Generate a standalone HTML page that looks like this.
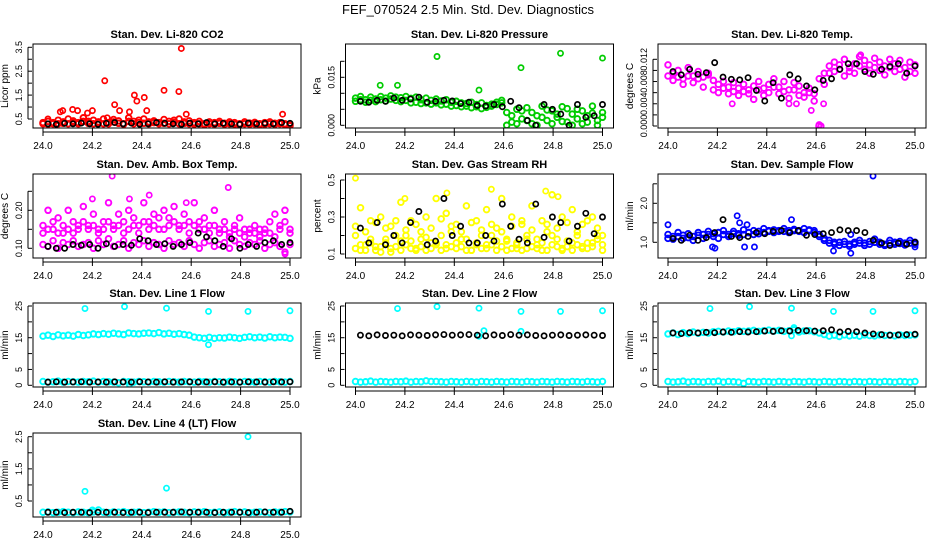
<!DOCTYPE html>
<html><head><meta charset="utf-8"><style>
body{margin:0;background:#fff;}
svg{display:block;font-family:"Liberation Sans",sans-serif;}
</style></head><body>
<svg id="c" width="936" height="540" viewBox="0 0 936 540">
<text x="468" y="14" text-anchor="middle" font-size="13">FEF_070524  2.5 Min. Std. Dev. Diagnostics</text>
</svg>
<script>
const xTicks=[24.0,24.2,24.4,24.6,24.8,25.0];
const xTickLabels=["24.0","24.2","24.4","24.6","24.8","25.0"];
// Panel 1 CO2
const p1Red=[0.35,0.4,0.3,0.45,0.38,0.5,0.42,0.35,0.55,0.4,0.45,0.38,0.5,0.35,0.48,0.42,0.3,0.55,0.4,0.45,0.5,0.38,0.42,0.35,0.48,0.4,0.45,0.5,0.38,0.42,0.35,0.4,0.3,0.38,0.35,0.4,0.32,0.38,0.35,0.3,0.38,0.33,0.36,0.3,0.35,0.38,0.32,0.35,0.3,0.28];
const p1RedB=[0.3,0.28,0.35,0.3,0.32,0.3,0.36,0.3,0.4,0.32,0.3,0.35,0.3,0.3,0.38,0.32,0.28,0.4,0.3,0.35,0.32,0.3,0.35,0.3,0.32,0.3,0.36,0.3,0.32,0.3,0.28,0.3,0.26,0.3,0.28,0.32,0.28,0.3,0.28,0.26,0.3,0.28,0.3,0.26,0.28,0.3,0.28,0.3,0.26,0.22];
const p1OutX=[24.02,24.07,24.08,24.12,24.14,24.18,24.2,24.25,24.26,24.29,24.31,24.35,24.37,24.38,24.41,24.42,24.49,24.55,24.56,24.58,24.97];
const p1OutY=[0.5,0.8,0.85,0.9,0.85,0.75,0.85,2.1,0.55,1.1,0.85,0.8,1.5,1.25,1.4,0.85,1.7,1.65,3.45,0.7,0.7];
const p1Black=[0.3,0.28,0.32,0.3,0.33,0.3,0.28,0.32,0.35,0.3,0.33,0.28,0.3,0.35,0.32,0.3,0.28,0.33,0.3,0.35,0.3,0.32,0.3,0.28,0.33,0.3,0.32,0.3,0.35,0.32];
// Panel 2 Pressure
const p2Green=[0.0085,0.009,0.008,0.0088,0.0082,0.009,0.0085,0.0092,0.0088,0.0086,0.009,0.0084,0.0088,0.008,0.0085,0.0078,0.0082,0.0076,0.008,0.0072,0.0075,0.007,0.0068,0.0072,0.0065,0.007,0.0062,0.0066,0.0072,0.0078,0.004,0.001,0.005,0.002,0.0055,0.0005,0.003,0.006,0.0015,0.0045,0.0025,0.0058,0.001,0.0035,0.005,0.0005,0.003,0.006,0.0015,0.004];
const p2GreenB=[0.0075,0.008,0.0072,0.0078,0.0074,0.008,0.0076,0.0082,0.0078,0.0074,0.0078,0.007,0.0072,0.0068,0.007,0.0066,0.007,0.0064,0.0066,0.006,0.0062,0.0058,0.006,0.0055,0.0058,0.0052,0.0056,0.006,0.0065,0.007,0.0,0.003,0.0005,0.0045,0.0015,0.004,0.0,0.0025,0.0048,0.0005,0.0035,0.0012,0.0052,0.0,0.002,0.0045,0.001,0.0038,0.0,0.0025];
const p2OutX=[24.1,24.17,24.33,24.5,24.67,24.83,25.0];
const p2OutY=[0.0125,0.0125,0.0215,0.011,0.018,0.0225,0.021];
const p2Black=[0.0075,0.0072,0.0078,0.0075,0.0085,0.0078,0.0082,0.0088,0.0072,0.0075,0.0078,0.0076,0.0068,0.0072,0.0062,0.006,0.0065,0.0058,0.0075,0.0055,0.0015,0.0,0.0065,0.005,0.0035,0.0,0.0065,0.0025,0.003,0.0065];
// Panel 3 Temp
const p3Mag=[0.011,0.0095,0.01,0.0085,0.0105,0.009,0.0098,0.0088,0.0095,0.0082,0.0075,0.008,0.007,0.0078,0.0068,0.0075,0.0065,0.0072,0.008,0.0068,0.0075,0.0085,0.007,0.008,0.0065,0.0078,0.0072,0.006,0.0068,0.0058,0.0085,0.0095,0.0108,0.0115,0.011,0.012,0.0105,0.0112,0.0125,0.0118,0.011,0.0122,0.0115,0.0108,0.012,0.0112,0.0118,0.0105,0.0115,0.011];
const p3MagB=[0.009,0.0082,0.0088,0.0075,0.009,0.0078,0.0085,0.007,0.0092,0.0065,0.006,0.0068,0.0058,0.0062,0.0055,0.0062,0.0058,0.0048,0.0065,0.0055,0.006,0.007,0.0058,0.0062,0.005,0.0065,0.0055,0.0052,0.006,0.0045,0.0002,0.0075,0.0095,0.0098,0.0102,0.009,0.0098,0.0095,0.0108,0.0102,0.0095,0.0105,0.01,0.0092,0.0105,0.0098,0.0102,0.0088,0.0098,0.0095];
const p3OutX=[24.26,24.49,24.52,24.58,24.61,24.62,24.63,24.78];
const p3OutY=[0.004,0.004,0.004,0.0028,0.0,0.0,0.004,0.0128];
const p3Black=[0.0098,0.0092,0.0102,0.0093,0.0096,0.0114,0.0088,0.0084,0.0083,0.0087,0.0064,0.0045,0.0078,0.005,0.0092,0.0085,0.0072,0.0065,0.0082,0.0085,0.0102,0.0112,0.0112,0.0098,0.0093,0.0102,0.0107,0.0112,0.0095,0.0108];
// Panel 4 Amb box temp
const p4Mag=[0.16,0.2,0.15,0.18,0.14,0.2,0.17,0.15,0.21,0.16,0.19,0.15,0.17,0.22,0.16,0.19,0.14,0.2,0.18,0.16,0.22,0.17,0.19,0.15,0.2,0.18,0.21,0.16,0.19,0.17,0.22,0.15,0.18,0.16,0.2,0.15,0.17,0.14,0.16,0.18,0.15,0.14,0.16,0.15,0.14,0.17,0.19,0.16,0.2,0.15];
const p4MagB=[0.11,0.105,0.12,0.1,0.115,0.11,0.12,0.105,0.11,0.115,0.1,0.12,0.11,0.125,0.105,0.11,0.12,0.1,0.115,0.11,0.12,0.105,0.115,0.11,0.1,0.12,0.11,0.115,0.105,0.12,0.11,0.1,0.115,0.12,0.105,0.11,0.115,0.1,0.12,0.11,0.105,0.115,0.11,0.12,0.1,0.11,0.115,0.105,0.09,0.11];
const p4MagC=[0.14,0.15,0.17,0.14,0.16,0.15,0.14,0.16,0.17,0.15,0.16,0.14,0.15,0.17,0.15,0.16,0.17,0.15,0.16,0.14,0.17,0.15,0.16,0.18,0.15,0.16,0.17,0.15,0.16,0.14,0.16,0.17,0.15,0.14,0.16,0.14,0.15,0.13,0.15,0.14,0.13,0.15,0.14,0.13,0.15,0.14,0.13,0.15,0.17,0.14];
const p4OutX=[24.2,24.28,24.35,24.43,24.75,24.58,24.98];
const p4OutY=[0.23,0.29,0.23,0.24,0.26,0.22,0.085];
const p4Black=[0.105,0.1,0.1,0.11,0.108,0.11,0.1,0.112,0.105,0.11,0.108,0.125,0.12,0.11,0.112,0.105,0.11,0.115,0.14,0.13,0.12,0.105,0.125,0.1,0.11,0.105,0.115,0.12,0.11,0.115];
// Panel 5 RH
const p5Yel=[0.2,0.35,0.15,0.28,0.12,0.3,0.18,0.25,0.14,0.38,0.2,0.28,0.13,0.22,0.3,0.16,0.4,0.2,0.32,0.14,0.26,0.18,0.36,0.12,0.28,0.2,0.34,0.15,0.24,0.4,0.18,0.3,0.13,0.26,0.2,0.36,0.15,0.28,0.22,0.42,0.18,0.3,0.14,0.34,0.2,0.26,0.16,0.3,0.18,0.2];
const p5YelB=[0.13,0.15,0.12,0.18,0.14,0.11,0.16,0.13,0.2,0.12,0.15,0.17,0.12,0.14,0.19,0.13,0.16,0.12,0.15,0.22,0.13,0.14,0.18,0.12,0.16,0.13,0.15,0.2,0.12,0.14,0.17,0.13,0.15,0.12,0.18,0.14,0.13,0.16,0.12,0.2,0.14,0.13,0.17,0.12,0.15,0.14,0.13,0.16,0.2,0.15];
const p5YelC=[0.25,0.12,0.22,0.16,0.27,0.14,0.24,0.11,0.28,0.17,0.23,0.13,0.26,0.18,0.12,0.24,0.15,0.29,0.13,0.25,0.16,0.22,0.12,0.27,0.15,0.23,0.13,0.26,0.17,0.22,0.12,0.25,0.16,0.28,0.13,0.23,0.18,0.12,0.26,0.15,0.24,0.12,0.27,0.16,0.22,0.13,0.28,0.14,0.24,0.12];
const p5OutX=[24.0,24.37,24.55,24.2,24.77,24.82];
const p5OutY=[0.51,0.43,0.45,0.4,0.44,0.41];
const p5Black=[0.24,0.16,0.27,0.15,0.2,0.16,0.27,0.33,0.15,0.17,0.4,0.2,0.25,0.16,0.16,0.2,0.17,0.37,0.25,0.18,0.16,0.37,0.19,0.3,0.27,0.17,0.25,0.32,0.21,0.3];
// Panel 6 Sample flow
const p6Blue=[1.2,1.15,1.25,1.18,1.22,1.15,1.25,1.2,1.28,1.22,1.25,1.3,1.2,1.28,1.22,1.32,1.25,1.3,1.28,1.35,1.3,1.32,1.28,1.35,1.3,1.33,1.3,1.35,1.32,1.3,1.2,1.1,1.05,0.95,1.0,1.02,0.95,1.0,1.05,0.98,1.02,1.08,1.0,0.95,1.05,1.0,1.02,0.98,1.05,1.0];
const p6BlueB=[1.1,1.08,1.15,1.1,1.12,1.05,1.18,1.1,1.2,1.15,1.1,1.2,1.15,1.22,1.18,1.2,1.25,1.2,1.22,1.25,1.28,1.25,1.3,1.28,1.25,1.3,1.28,1.25,1.3,1.25,1.15,1.05,0.98,1.0,0.92,0.95,0.9,0.95,0.98,0.92,0.95,1.0,0.95,0.92,0.98,0.95,0.97,0.93,0.98,0.95];
const p6OutX=[24.0,24.18,24.19,24.28,24.29,24.32,24.31,24.35,24.5,24.67,24.74,24.74,24.83,25.0];
const p6OutY=[1.45,0.88,0.85,1.68,1.5,1.45,0.88,0.88,1.58,0.78,0.72,1.2,2.7,0.88];
const p6Black=[1.1,1.05,1.18,1.05,1.12,1.25,1.58,1.15,1.12,1.15,1.25,1.22,1.28,1.3,1.25,1.3,1.18,1.2,1.22,1.25,1.32,1.3,1.3,1.25,1.05,0.98,0.92,0.98,0.95,1.0];
// Panel 7 Line 1
const p7Cyan=[15.5,15.8,15.4,15.9,15.6,15.8,15.5,16,15.7,15.9,16.2,16,16.3,16.1,16.4,16.2,16,16.5,16.3,16.2,16.4,16.5,16.3,16.6,16.2,16.4,16.1,16.3,16,15.8,15.2,15,14.8,15.1,14.8,15,14.9,15.2,15,14.8,15.1,15.3,15,15.2,14.9,15.3,15,15.2,15.1,14.8];
const p7CyanB=[1.2,1,1.1,1.3,1,1.2,1.1,1,1.2,1.1,1.3,1,1.2,1.1,1,0.8,1.2,1.1,1,1.2,1.1,1,1.2,1.1,1,1.2,1.1,1,1.2,1.1,1,1.2,1.1,1,1.2,1.1,1,1.2,1.1,1,1.2,1.1,1,1.2,1.1,1,1.2,1.1,1,1.2];
const p7OutX=[24.17,24.33,24.5,24.67,24.83,25.0,24.67,24.35];
const p7OutY=[24.2,24.8,24.3,23.3,23.3,23.5,12.8,0.2];
const p7Black=[1,1.1,1,1.05,1.1,1,1.05,1,1.1,1.05,1,1.1,1.05,1,1.1,1,1.05,1.1,1,1.05,1.1,1,1.05,1,1.1,1.05,1,1.1,1.05,1.1];
// Panel 8 Line 2
const p8Cyan=[1.2,1,1.1,1.3,1,1.2,1.1,1,1.2,1.1,1.3,1,1.2,1.1,1.4,1.2,1.2,1.1,1,1.2,1.1,1,1.2,1.1,1,1.2,1.1,1,1.2,1.1,1,1.2,1.1,1,1.2,1.1,1,1.2,1.1,1,1.2,1.1,1,1.2,1.1,1,1.2,1.1,1,1.2];
const p8OutX=[24.17,24.33,24.5,24.67,24.83,25.0,24.5,24.52,24.67];
const p8OutY=[24.2,24.8,24.3,23.3,23.3,23.5,15.5,17.2,17.0];
const p8Black=[15.8,15.6,15.9,15.7,15.8,15.6,15.9,15.8,15.7,15.9,16,15.8,15.9,16,15.8,15.6,15.9,15.7,16,15.8,15.9,15.7,15.6,15.8,15.9,15.7,15.8,15.9,15.8,15.7];
// Panel 9 Line 3
const p9Cyan=[16.2,16.5,16,16.6,16.3,16.8,16.4,16.7,16.5,16.9,17,16.8,17.1,16.9,17.2,17,17.1,17.3,17,17.2,17.4,17.1,17.3,17,17.2,17.5,16.8,17.1,17.2,16.9,16.5,16,15.5,15.8,15.4,15.9,15.6,15.8,15.5,15.9,15.7,15.6,15.9,15.7,15.8,15.6,15.9,15.7,15.8,15.9];
const p9CyanB=[1.2,1,1.1,1.3,1,1.2,1.1,1,1.2,1.1,1.3,1,1.2,1.1,1,0.6,1.2,1.1,1,1.2,1.1,1,1.2,1.1,1,1.2,1.1,1,1.2,1.1,1,1.2,1.1,1,1.2,1.1,1,1.2,1.1,1,1.2,1.1,1,1.2,1.1,1,1.2,1.1,1,1.2];
const p9OutX=[24.17,24.33,24.5,24.67,24.83,25.0,24.51,24.5];
const p9OutY=[24.2,24.8,24.3,23.3,23.3,23.5,18.2,15.6];
const p9Black=[16.5,16.3,16.6,16.5,16.7,16.6,16.8,16.7,16.9,16.8,16.9,17.1,17,17.2,17.1,17.3,17.2,17.1,17.2,17.5,16.8,17,16.9,16.5,16.2,16,15.8,15.9,16,16.1];
// Panel 10 Line 4
const p10Cyan=[0.15,0.16,0.14,0.15,0.17,0.15,0.14,0.16,0.15,0.14,0.16,0.22,0.15,0.14,0.16,0.15,0.17,0.14,0.15,0.16,0.14,0.15,0.17,0.15,0.16,0.14,0.15,0.16,0.15,0.14,0.16,0.15,0.17,0.14,0.15,0.16,0.14,0.15,0.17,0.15,0.16,0.14,0.15,0.16,0.15,0.14,0.16,0.15,0.17,0.16];
const p10OutX=[24.17,24.2,24.5,24.83];
const p10OutY=[0.8,0.22,0.9,2.5];
const p10Black=[0.15,0.15,0.14,0.15,0.15,0.14,0.15,0.15,0.15,0.14,0.15,0.15,0.14,0.15,0.15,0.15,0.16,0.15,0.15,0.15,0.14,0.15,0.15,0.15,0.14,0.15,0.16,0.15,0.15,0.18];

const NS="http://www.w3.org/2000/svg";
const svg=document.getElementById('c');
function mk(tag,attrs,parent){const e=document.createElementNS(NS,tag);for(const k in attrs)e.setAttribute(k,attrs[k]);(parent||svg).appendChild(e);return e;}

const rowTop=[44,174,303,433];
const colLeft=[33,345.5,658];
const panels=[
 {r:0,c:0,name:'co2',title:'Stan. Dev. Li-820 CO2',ylab:'Licor ppm',v1:0.5,p1:119,v2:3.5,p2:47.3,
  ticks:[0.5,1,1.5,2,2.5,3,3.5],labs:['0.5','','1.5','','2.5','','3.5'],
  col:'#ff0000',series:[p1Red,p1RedB],ox:p1OutX,oy:p1OutY,black:p1Black},
 {r:0,c:1,name:'pressure',title:'Stan. Dev. Li-820 Pressure',ylab:'kPa',v1:0,p1:125.3,v2:0.015,p2:77.3,
  ticks:[0,0.005,0.01,0.015,0.02],labs:['0.000','','','0.015',''],
  col:'#00cc00',series:[p2Green,p2GreenB],ox:p2OutX,oy:p2OutY,black:p2Black},
 {r:0,c:2,name:'li820-temp',title:'Stan. Dev. Li-820 Temp.',ylab:'degrees C',v1:0,p1:126,v2:0.012,p2:59.3,
  ticks:[0,0.002,0.004,0.006,0.008,0.01,0.012],labs:['0.000','','0.004','','0.008','','0.012'],
  col:'#ff00ff',series:[p3Mag,p3MagB],ox:p3OutX,oy:p3OutY,black:p3Black},
 {r:1,c:0,name:'amb-box-temp',title:'Stan. Dev. Amb. Box Temp.',ylab:'degrees C',v1:0.1,p1:248.3,v2:0.2,p2:210.3,
  ticks:[0.1,0.15,0.2,0.25],labs:['0.10','','0.20',''],
  col:'#ff00ff',series:[p4Mag,p4MagB,p4MagC],ox:p4OutX,oy:p4OutY,black:p4Black},
 {r:1,c:1,name:'gas-rh',title:'Stan. Dev. Gas Stream RH',ylab:'percent',v1:0.1,p1:254,v2:0.5,p2:180,
  ticks:[0.1,0.2,0.3,0.4,0.5],labs:['0.1','','0.3','','0.5'],
  col:'#ffff00',series:[p5Yel,p5YelB,p5YelC],ox:p5OutX,oy:p5OutY,black:p5Black},
 {r:1,c:2,name:'sample-flow',title:'Stan. Dev. Sample Flow',ylab:'ml/min',v1:1,p1:242.3,v2:2,p2:203.3,
  ticks:[1,1.5,2,2.5],labs:['1.0','','2.0',''],
  col:'#0000ff',series:[p6Blue,p6BlueB],ox:p6OutX,oy:p6OutY,black:p6Black},
 {r:2,c:0,name:'line1-flow',title:'Stan. Dev. Line 1 Flow',ylab:'ml/min',v1:0,p1:385.3,v2:25,p2:306,
  ticks:[0,5,10,15,20,25],labs:['0','5','','15','','25'],
  col:'#00ffff',series:[p7Cyan,p7CyanB],ox:p7OutX,oy:p7OutY,black:p7Black},
 {r:2,c:1,name:'line2-flow',title:'Stan. Dev. Line 2 Flow',ylab:'ml/min',v1:0,p1:385.3,v2:25,p2:306,
  ticks:[0,5,10,15,20,25],labs:['0','5','','15','','25'],
  col:'#00ffff',series:[p8Cyan],ox:p8OutX,oy:p8OutY,black:p8Black},
 {r:2,c:2,name:'line3-flow',title:'Stan. Dev. Line 3 Flow',ylab:'ml/min',v1:0,p1:385.3,v2:25,p2:306,
  ticks:[0,5,10,15,20,25],labs:['0','5','','15','','25'],
  col:'#00ffff',series:[p9Cyan,p9CyanB],ox:p9OutX,oy:p9OutY,black:p9Black},
 {r:3,c:0,name:'line4-flow',title:'Stan. Dev. Line 4 (LT) Flow',ylab:'ml/min',v1:0.5,p1:501,v2:2.5,p2:436.7,
  ticks:[0.5,1,1.5,2,2.5],labs:['0.5','','1.5','','2.5'],
  col:'#00ffff',series:[p10Cyan],ox:p10OutX,oy:p10OutY,black:p10Black}
];

panels.forEach(P=>{
  const L=colLeft[P.c], T=rowTop[P.r], W=268, H=84, B=T+H;
  const g=mk('g',{});
  
  
  const xs=v=>L+10+(v-24)*247;
  const ys=v=>P.p1+(v-P.v1)*(P.p2-P.p1)/(P.v2-P.v1);
  const t=mk('text',{x:L+W/2,y:T-6,'text-anchor':'middle','font-size':11,'font-weight':'bold'},g);
  t.textContent=P.title;
  
  
  const yl=mk('text',{x:0,y:0,'text-anchor':'middle','font-size':10,transform:`translate(${L-25},${T+H/2}) rotate(-90)`},g);
  yl.textContent=P.ylab;
  
  
  const ya=mk('g',{},g);
  
  
  mk('line',{x1:L-5,x2:L-5,y1:ys(P.ticks[0]),y2:ys(P.ticks[P.ticks.length-1]),stroke:'#000'},ya);
  P.ticks.forEach((v,i)=>{
    const y=ys(v);
    mk('line',{x1:L-5,x2:L-1,y1:y,y2:y,stroke:'#000'},ya);
    if(P.labs[i]){const tl=mk('text',{x:0,y:0,'text-anchor':'middle','font-size':9,transform:`translate(${L-11},${y}) rotate(-90)`},ya);tl.textContent=P.labs[i];
      
      }
  });
  const xa=mk('g',{},g);
  
  
  mk('line',{x1:xs(xTicks[0]),x2:xs(xTicks[xTicks.length-1]),y1:B+4,y2:B+4,stroke:'#000'},xa);
  xTicks.forEach((v,i)=>{
    const x=xs(v);
    mk('line',{x1:x,x2:x,y1:B,y2:B+8,stroke:'#000'},xa);
    const tl=mk('text',{x:x,y:B+21,'text-anchor':'middle','font-size':10},xa);
    tl.textContent=xTickLabels[i];
    
    
  });
  const cid='clip'+P.name;
  const cp=mk('clipPath',{id:cid},g);
  mk('rect',{x:L,y:T,width:W,height:H},cp);
  const pts=mk('g',{'clip-path':`url(#${cid})`},g);
  
  
  P.series.forEach(arr=>{
    arr.forEach((v,i)=>{
      const c=mk('circle',{cx:xs(24+i/(arr.length-1)),cy:ys(v),r:2.8,fill:'none',stroke:P.col,'stroke-width':1.9},pts);
      
      
    });
  });
  P.ox.forEach((x,i)=>{
    const c=mk('circle',{cx:xs(x),cy:ys(P.oy[i]),r:2.6,fill:'none',stroke:P.col,'stroke-width':1.7},pts);
    
    
  });
  P.black.forEach((v,i)=>{
    const c=mk('circle',{cx:xs(24.02+0.98*i/(P.black.length-1)),cy:ys(v),r:2.6,fill:'none',stroke:'#000','stroke-width':1.7},pts);
    
    
  });
  const box=mk('rect',{x:L,y:T,width:W,height:H,fill:'none',stroke:'#000','stroke-width':1},g);
  
  
});
</script>
</body></html>
